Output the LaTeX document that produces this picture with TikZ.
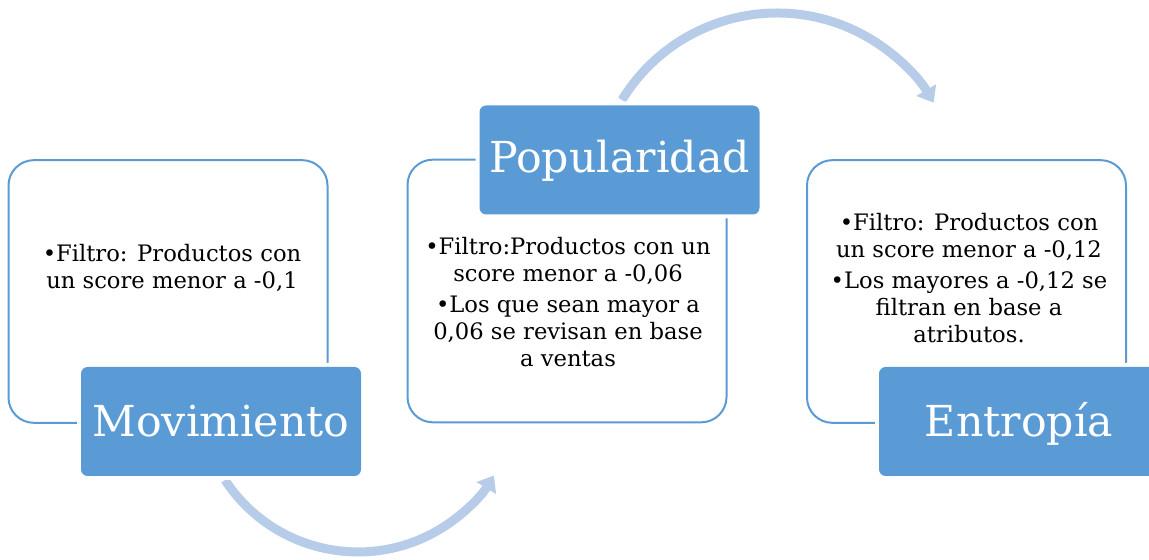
\documentclass[tikz,border=0pt]{standalone}
\usepackage{fontspec}
\setmainfont{DejaVu Serif}
\usetikzlibrary{arrows.meta}
\definecolor{accent}{HTML}{5B9BD5}
\definecolor{arrowc}{HTML}{B6CCE8}
\begin{document}
\begin{tikzpicture}[x=0.75pt,y=0.75pt,
  outline/.style={draw=accent, line width=1.5pt, rounded corners=19pt, inner sep=0pt,
    minimum width=239.25pt, minimum height=197pt},
  titlebox/.style={fill=accent, rounded corners=5pt, inner sep=0pt, text=white,
    minimum width=210pt, minimum height=81.75pt, text depth=0pt,
    font=\fontsize{32}{40}\selectfont,
    preaction={draw=white, line width=6pt}},
  bodytext/.style={align=center, inner sep=0pt, anchor=base,
    font=\fontsize{17}{20.25}\selectfont},
  cyclearrow/.style={draw=arrowc, line width=6.75pt,
    -{Triangle[width=16.5pt,length=11pt]}}]
\useasboundingbox (0,0) rectangle (1149,560);

% cycle arrows (behind the boxes)
\coordinate (a1s) at (225,80);
\coordinate (a2s) at (622,460);
\draw[cyclearrow] (a1s) arc[start angle=213.2, end angle=328.7, radius=159];
\draw[cyclearrow] (a2s) arc[start angle=148.6, end angle=30.4, radius=181.6];

% outline boxes
\node[outline] (b1) at (168,268.5) {};
\node[outline] (b2) at (567,269) {};
\node[outline] (b3) at (966.5,268.5) {};

% body texts
\node[bodytext] (t1) at (172,271) {•Filtro: Productos con\\un score menor a -0,1};
\node[bodytext] (t2) at (568,193) {•Filtro:Productos con un\\score menor a -0,06\\[3pt]•Los que sean mayor a\\0,06 se revisan en base\\a ventas};
\node[bodytext] (t3) at (969,217) {•Filtro: Productos con\\un score menor a -0,12\\[3pt]•Los mayores a -0,12 se\\filtran en base a\\atributos.};

% title boxes
\node[titlebox, text height=23pt] (m1) at (221,138.5) {Movimiento};
\node[titlebox, text height=19.5pt] (m2) at (619.5,400) {Popularidad};
\node[titlebox, text height=23pt] (m3) at (1019,138.5) {Entropía};
\end{tikzpicture}
\end{document}
